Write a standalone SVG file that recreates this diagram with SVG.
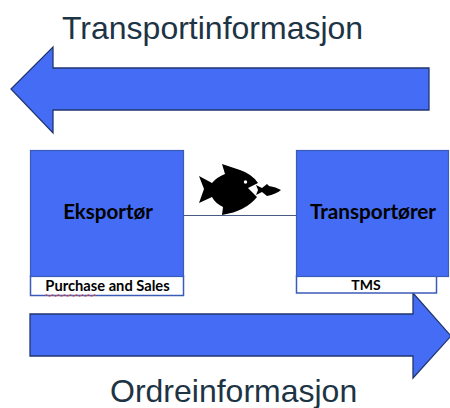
<svg xmlns="http://www.w3.org/2000/svg" width="450" height="408" viewBox="0 0 450 408">
<style>
.arrow{fill:#446cf5;stroke:#22366e;stroke-width:1.3}
.box{fill:#446cf5;stroke:#3a5bb8;stroke-width:1.2}
.sub{fill:#fff;stroke:#3a5bb8;stroke-width:1.5}
.title{font-family:"Liberation Sans",Arial,sans-serif;font-size:32px;fill:#1d3445}
.label{font-family:Lato,"Open Sans",sans-serif;font-weight:700;fill:#000;text-anchor:middle}
</style>
<rect width="450" height="408" fill="#fff"/>
<g id="connectors">
<line x1="184" y1="215.500" x2="296" y2="215.500" stroke="#4a5a80" stroke-width="1"/>
</g>
<g id="transportinformasjon">
<path class="arrow" d="M429 68V110H53V133L11 89L53 47V68Z"/>
<text class="title" x="62" y="39">Transportinformasjon</text>
</g>
<g id="ordreinformasjon">
<path class="arrow" d="M30 314H413V293L451 336L413 378V356H30Z"/>
<text class="title" x="110" y="402">Ordreinformasjon</text>
</g>
<g id="eksportor">
<rect class="sub" x="30.500" y="276" width="153" height="19.500"/>
<rect class="box" x="30.500" y="150.500" width="153" height="126"/>
<text class="label" x="108" y="219" font-size="20.500">Eksportør</text>
<text class="label" x="107.500" y="291" font-size="14.700">Purchase and Sales</text>
<path d="M45 295.500q1.500 -2 3 0t3 0t3 0t3 0t3 0t3 0t3 0t3 0t3 0t3 0t3 0t3 0t3 0t3 0t3 0t3 0t3 0" fill="none" stroke="#d9534f" stroke-width="0.900"/>
</g>
<g id="transportorer">
<rect class="sub" x="296.500" y="276" width="140" height="17"/>
<rect class="box" x="296.500" y="150.500" width="152" height="126"/>
<text class="label" x="373" y="219" font-size="20.700">Transportører</text>
<text class="label" x="366" y="290" font-size="14">TMS</text>
</g>
<g id="fish">
<path fill="#000" d="M199 176L212 183Q217 177 225 174L222 164L240 170Q252 174 258 183L248 188L257 197Q246 211 222 215L223 207Q215 203 212 197L199 203L204 189Z"/>
<circle cx="245.500" cy="182" r="1.700" fill="#fff"/>
<path fill="#000" d="M256 185L262 188L267 184L269 186Q276 187 281 190Q276 194 267 196L262 192L256 195L258 190Z"/>
</g>
</svg>
